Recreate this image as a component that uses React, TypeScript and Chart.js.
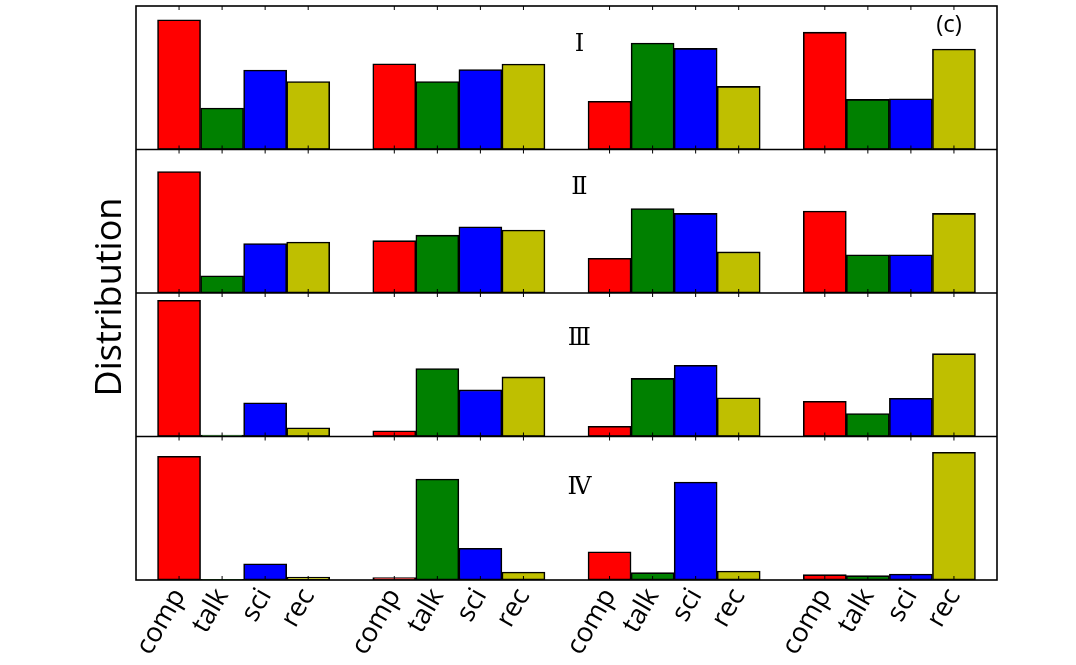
import React, { useEffect, useRef } from 'react';
import { Chart, registerables } from 'chart.js';

Chart.register(...registerables);

// ---- data ----
const categories = ['comp', 'talk', 'sci', 'rec'];
const groupCount = 4;
const panelNames = ['Ⅰ', 'Ⅱ', 'Ⅲ', 'Ⅳ'];
const panelMax = [0.45, 0.6, 0.8, 1.0];
const colors = ['#ff0000', '#008000', '#0000ff', '#bfbf00'];

// each panel: 4 groups x (comp, talk, sci, rec)
const panelI = [0.407, 0.130, 0.249, 0.213, 0.269, 0.213, 0.251, 0.268, 0.151, 0.334, 0.317, 0.198, 0.368, 0.157, 0.159, 0.315];
const panelII = [0.508, 0.072, 0.207, 0.213, 0.219, 0.242, 0.277, 0.263, 0.145, 0.353, 0.333, 0.172, 0.343, 0.160, 0.160, 0.333];
const panelIII = [0.759, 0.008, 0.188, 0.049, 0.032, 0.379, 0.260, 0.332, 0.057, 0.324, 0.397, 0.216, 0.196, 0.128, 0.213, 0.462];
const panelIV = [0.862, 0.005, 0.113, 0.020, 0.016, 0.704, 0.221, 0.056, 0.197, 0.051, 0.683, 0.063, 0.037, 0.030, 0.042, 0.890];
const panels = [panelI, panelII, panelIII, panelIV];

// bar positions on the x axis: groups separated by one empty slot
const positions: number[] = [];
const labelAt: Record<number, string> = {};
const colorList: string[] = [];
for (let g = 0; g < groupCount; g++) {
  categories.forEach((c, i) => {
    const x = g * (categories.length + 1) + i;
    positions.push(x);
    labelAt[x] = c;
    colorList.push(colors[i]);
  });
}

const FONT_SANS = '"Open Sans", "DejaVu Sans", sans-serif';
const FONT_SERIF = '"DejaVu Serif", "Liberation Serif", serif';
const labelOffsets = [39, 38, 46, 51];

const framePlugin = {
  id: 'frame',
  afterDatasetsDraw(chart: any) {
    const { ctx, chartArea } = chart;
    const xs = chart.scales.x;
    const ys = ['y0', 'y1', 'y2', 'y3'].map((k) => chart.scales[k]);
    ctx.save();
    ctx.strokeStyle = '#000';
    ctx.lineWidth = 1.6;
    ys.forEach((s: any, i: number) => {
      if (i < ys.length - 1) {
        ctx.beginPath();
        ctx.moveTo(chartArea.left, s.bottom);
        ctx.lineTo(chartArea.right, s.bottom);
        ctx.stroke();
      }
    });
    ctx.lineWidth = 1;
    positions.forEach((p) => {
      const px = xs.getPixelForValue(p);
      ys.forEach((s: any) => {
        ctx.beginPath();
        ctx.moveTo(px, s.bottom);
        ctx.lineTo(px, s.bottom - 4);
        ctx.moveTo(px, s.top);
        ctx.lineTo(px, s.top + 4);
        ctx.stroke();
      });
    });
    ctx.lineWidth = 1.6;
    ctx.strokeRect(chartArea.left, chartArea.top, chartArea.right - chartArea.left, chartArea.bottom - chartArea.top);
    ctx.restore();
  },
  afterDraw(chart: any) {
    const { ctx, chartArea } = chart;
    const xs = chart.scales.x;
    ctx.save();
    ctx.fillStyle = '#000';
    ctx.font = `24px ${FONT_SERIF}`;
    ctx.textAlign = 'center';
    ctx.textBaseline = 'middle';
    panelNames.forEach((n, i) => {
      const s = chart.scales['y' + i];
      ctx.fillText(n, xs.getPixelForValue(9.3), s.top + labelOffsets[i]);
    });
    ctx.font = `24px ${FONT_SANS}`;
    ctx.fillText('(c)', chartArea.right - 48, chartArea.top + 19);
    ctx.font = `36px ${FONT_SANS}`;
    ctx.textBaseline = 'alphabetic';
    ctx.translate(chartArea.left - 15, (chartArea.top + chartArea.bottom) / 2 + 4);
    ctx.rotate(-Math.PI / 2);
    ctx.fillText('Distribution', 0, 0);
    ctx.restore();
  },
};

export default function App() {
  const ref = useRef<HTMLCanvasElement | null>(null);
  useEffect(() => {
    if (!ref.current) return;
    const yScales: any = {};
    panels.forEach((_, i) => {
      yScales['y' + i] = {
        type: 'linear',
        position: 'left',
        stack: 'panels',
        stackWeight: 1,
        weight: 10 - i,
        min: 0,
        max: panelMax[i],
        stacked: false,
        display: false,
      };
    });
    const chart = new Chart(ref.current, {
      type: 'bar',
      data: {
        datasets: panels.map((vals, i) => ({
          label: panelNames[i],
          data: positions.map((x, j) => ({ x, y: vals[j] })),
          backgroundColor: colorList,
          borderColor: '#000',
          borderWidth: 1.6,
          borderSkipped: false,
          yAxisID: 'y' + i,
          stack: 'all',
          categoryPercentage: 1,
          barPercentage: 1,
        })),
      },
      options: {
        animation: false,
        responsive: false,
        layout: { padding: { left: 136, right: 79, top: 6, bottom: 0 } },
        plugins: { legend: { display: false }, tooltip: { enabled: false } },
        scales: {
          x: {
            type: 'linear',
            min: -1,
            max: 19,
            offset: false,
            grid: { display: false, drawTicks: false, offset: false },
            border: { display: false },
            afterBuildTicks: (scale: any) => {
              scale.ticks = positions.map((v) => ({ value: v }));
            },
            afterFit: (scale: any) => {
              scale.height = 85;
            },
            ticks: {
              autoSkip: false,
              minRotation: 60,
              maxRotation: 60,
              padding: 3,
              color: '#000',
              font: { family: FONT_SANS, size: 27 },
              callback: (v: any) => labelAt[v] ?? '',
            },
          },
          ...yScales,
        },
      },
      plugins: [framePlugin],
    } as any);
    return () => chart.destroy();
  }, []);
  return (
    <div style={{ position: 'fixed', left: 0, top: 0, width: 1076, height: 665, background: '#fff' }}>
      <canvas ref={ref} width={1076} height={665} style={{ width: 1076, height: 665, display: 'block' }} />
    </div>
  );
}
